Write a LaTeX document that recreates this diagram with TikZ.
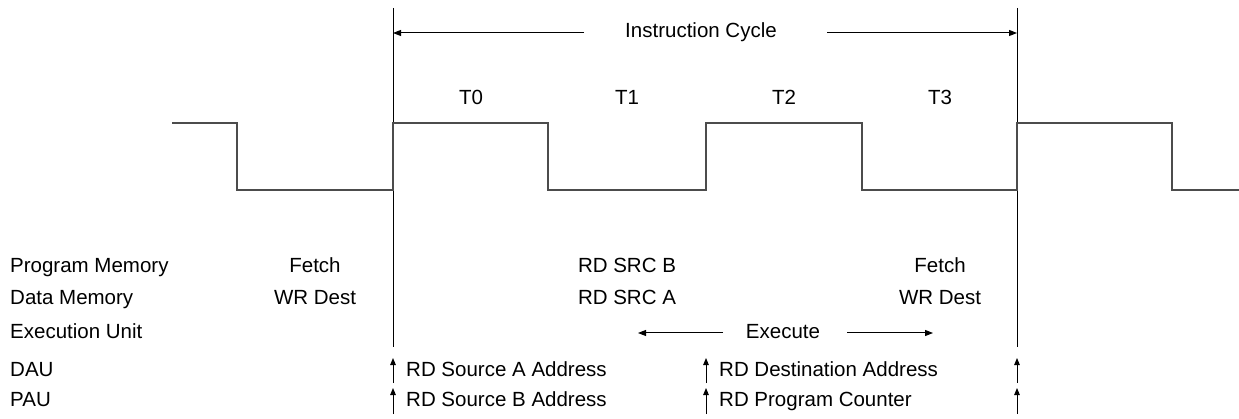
\documentclass[tikz,border=0pt]{standalone}
\usepackage{fontspec}
\setmainfont{Liberation Sans}
\usetikzlibrary{arrows.meta}
\begin{document}
\begin{tikzpicture}[x=1pt,y=-1pt,
  lbl/.style={inner sep=0pt, text height=14pt, text depth=4pt, font=\fontsize{20.5}{24}\selectfont},
  lbll/.style={lbl, anchor=west},
  wave/.style={line width=1.3pt, draw=black!70},
  cyc/.style={line width=1pt},
  bigarrow/.style={line width=1pt, -{Triangle[length=8pt,width=6pt]}},
  tickarrow/.style={line width=1pt, -{Triangle[length=7pt,width=5.5pt]}},
]
\useasboundingbox (0,0) rectangle (1239,419);
% cycle boundary lines
\coordinate (L1t) at (393,8); \coordinate (L1b) at (393,347);
\coordinate (L2t) at (1017,8); \coordinate (L2b) at (1017,347);
\draw[cyc] (L1t) -- (L1b);
\draw[cyc] (L2t) -- (L2b);
% clock waveform
\draw[wave] (172,123) -- (237,123) -- (237,190) -- (393,190) -- (393,123) -- (548,123) -- (548,190)
  -- (706,190) -- (706,123) -- (862,123) -- (862,190) -- (1017,190) -- (1017,123) -- (1172,123)
  -- (1172,190) -- (1239,190);
% instruction cycle
\node[lbl] (ic) at (701,33) {Instruction Cycle};
\coordinate (icl) at (584,33); \coordinate (icr) at (827,33);
\draw[bigarrow] (icl) -- (L1t |- icl);
\draw[bigarrow] (icr) -- (L2t |- icr);
% phases
\node[lbl] (t0) at (471,100) {T0};
\node[lbl] (t1) at (627,100) {T1};
\node[lbl] (t2) at (784,100) {T2};
\node[lbl] (t3) at (940,100) {T3};
% row labels
\node[lbll] (pm) at (10,268) {Program Memory};
\node[lbll] (dm) at (10,300) {Data Memory};
\node[lbll] (eu) at (10,333) {Execution Unit};
\node[lbll] (dau) at (10,371) {DAU};
\node[lbll] (pau) at (10,401) {PAU};
% activities
\node[lbl] (f1) at (315,268) {Fetch};
\node[lbl] (w1) at (315,300) {WR Dest};
\node[lbl] (sb) at (627,268) {RD SRC B};
\node[lbl] (sa) at (627,300) {RD SRC A};
\node[lbl] (f2) at (940,268) {Fetch};
\node[lbl] (w2) at (940,300) {WR Dest};
\node[lbl] (ex) at (783,333) {Execute};
\coordinate (exl1) at (723,333); \coordinate (exl2) at (638,333);
\coordinate (exr1) at (847,333); \coordinate (exr2) at (933,333);
\draw[bigarrow] (exl1) -- (exl2);
\draw[bigarrow] (exr1) -- (exr2);
% address units
\node[lbll] (dA) at (406,371) {RD Source A Address};
\node[lbll] (pB) at (406,401) {RD Source B Address};
\node[lbll] (dD) at (719,371) {RD Destination Address};
\node[lbll] (pC) at (719,401) {RD Program Counter};
\foreach \xx/\nm in {393/a,706/b,1017/c}{
  \coordinate (d\nm1) at (\xx,383); \coordinate (d\nm2) at (\xx,358);
  \coordinate (p\nm1) at (\xx,414); \coordinate (p\nm2) at (\xx,388);
  \draw[tickarrow] (d\nm1) -- (d\nm2);
  \draw[tickarrow] (p\nm1) -- (p\nm2);
}
\end{tikzpicture}
\end{document}
